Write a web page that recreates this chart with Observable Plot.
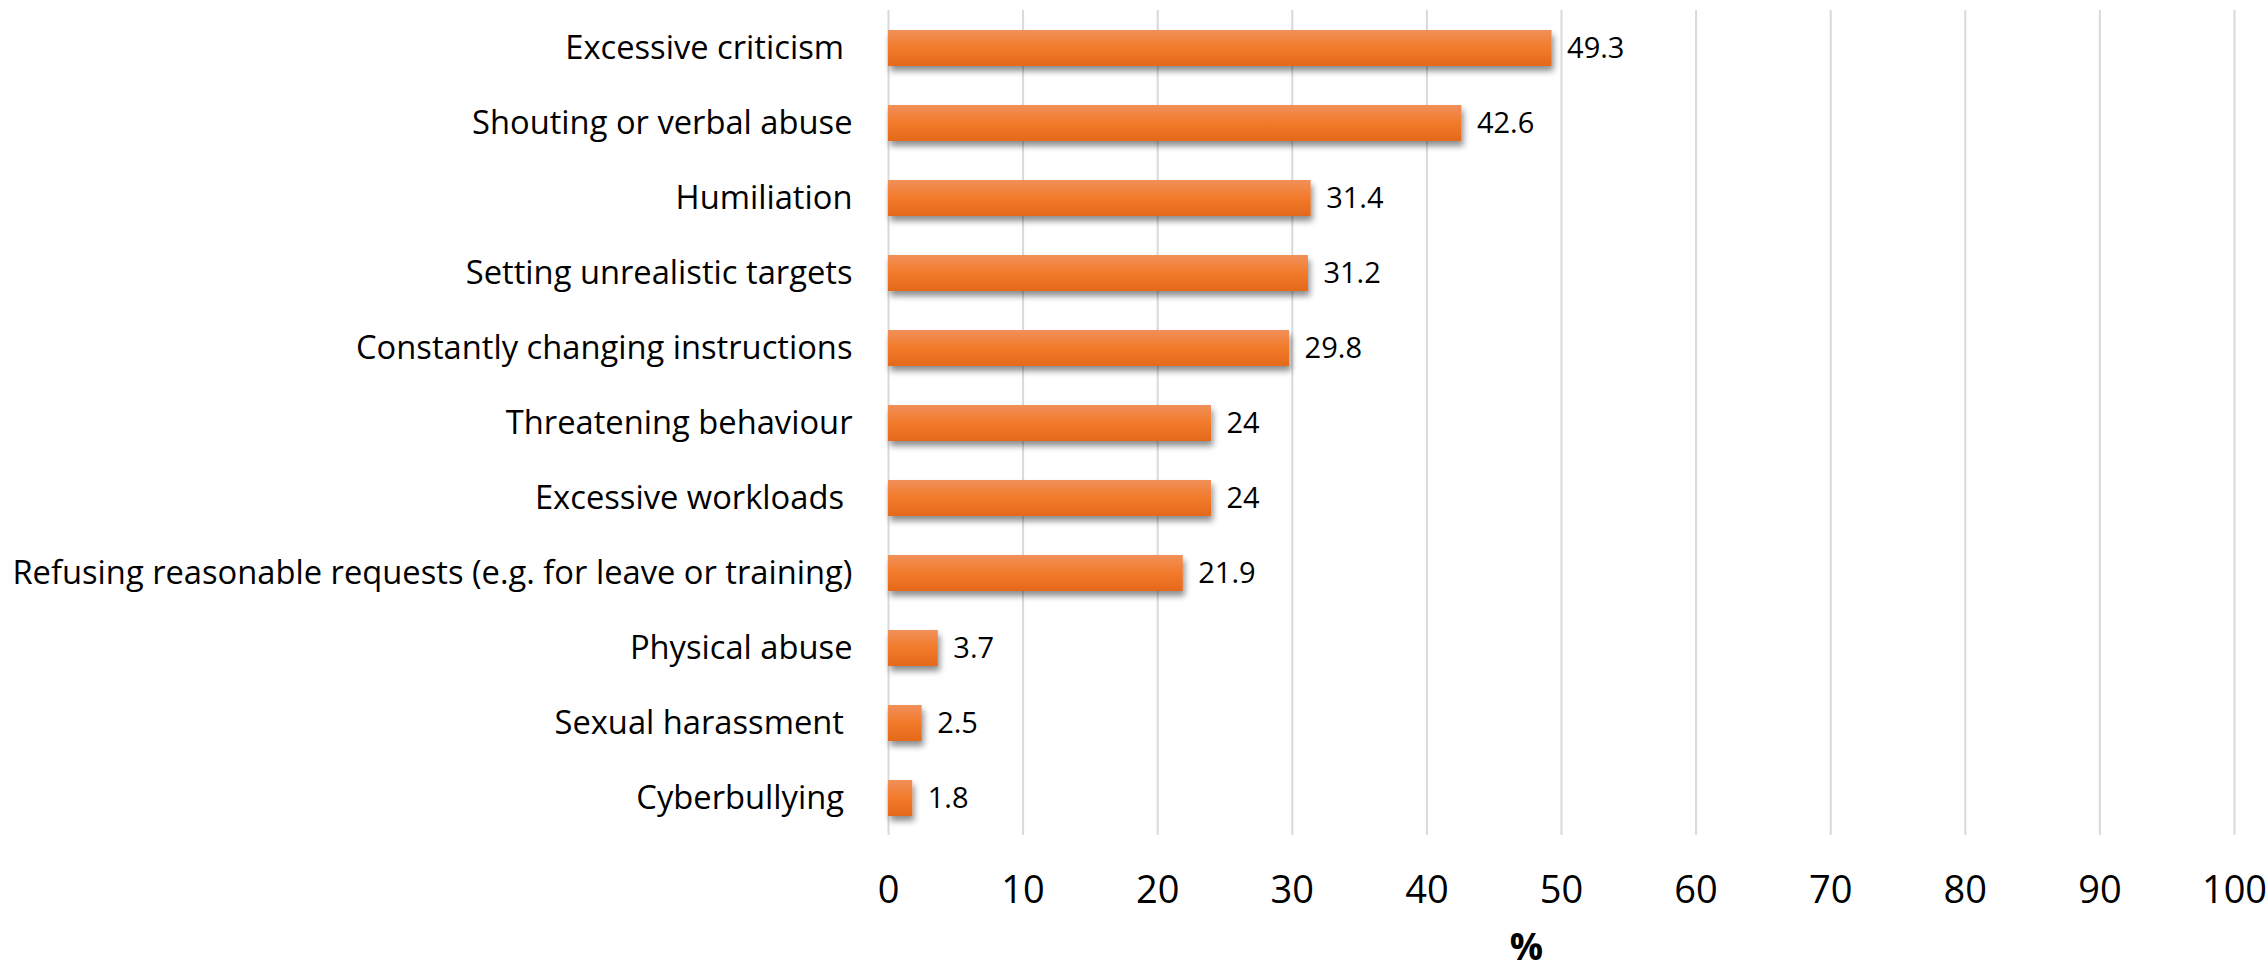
<!DOCTYPE html>
<html>
<head>
<meta charset="utf-8">
<script src="https://cdn.jsdelivr.net/npm/d3@7"></script>
<script src="https://cdn.jsdelivr.net/npm/@observablehq/plot@0.6"></script>
<style>
  html, body { margin: 0; padding: 0; background: #ffffff; }
  #chart svg { display: block; }
</style>
</head>
<body>
<div id="chart"></div>
<script>
// Data (categories in display order, top to bottom)
const categories = [
  "Excessive criticism\u00A0",
  "Shouting or verbal abuse",
  "Humiliation",
  "Setting unrealistic targets",
  "Constantly changing instructions",
  "Threatening behaviour",
  "Excessive workloads\u00A0",
  "Refusing reasonable requests (e.g. for leave or training)",
  "Physical abuse",
  "Sexual harassment\u00A0",
  "Cyberbullying\u00A0"
];
const values = [49.3, 42.6, 31.4, 31.2, 29.8, 24, 24, 21.9, 3.7, 2.5, 1.8];
const xTicks = [0, 10, 20, 30, 40, 50, 60, 70, 80, 90, 100];
const xLabel = "%";

const data = categories.map((c, i) => ({category: c, value: values[i]}));

const chart = Plot.plot({
  width: 2268,
  height: 970,
  marginTop: 10,
  marginBottom: 135,
  marginLeft: 888,
  marginRight: 34,
  style: {fontFamily: "'Open Sans', sans-serif", fontSize: "32px", color: "#000", background: "#fff", overflow: "visible"},
  x: {domain: [0, 100], ticks: xTicks},
  y: {domain: categories, padding: 0.52, paddingOuter: 0.26, align: 0.5},
  marks: [
    Plot.gridX(xTicks, {stroke: "#d9d9d9", strokeOpacity: 1, strokeWidth: 2}),
    Plot.barX(data, {x: "value", y: "category", fill: "url(#barGrad)"}),
    Plot.text(data, {x: "value", y: "category", text: d => String(d.value), textAnchor: "start", dx: 15, fontSize: 29, fill: "#000"}),
    Plot.axisY({tickSize: 0, tickPadding: 36, fontSize: 32.7, label: null}),
    Plot.axisX({ticks: xTicks, tickSize: 0, tickPadding: 41, fontSize: 38, label: null}),
    Plot.text([xLabel], {frameAnchor: "bottom", dy: 124, dx: -35, fontSize: 37, fontWeight: "bold", fill: "#000"})
  ]
});

// gradient + shadow for bars
const svgNS = "http://www.w3.org/2000/svg";
const defs = document.createElementNS(svgNS, "defs");
defs.innerHTML = `
  <linearGradient id="barGrad" x1="0" y1="0" x2="0" y2="1">
    <stop offset="0" stop-color="#F1905A"/>
    <stop offset="0.5" stop-color="#F27A2A"/>
    <stop offset="1" stop-color="#E4691B"/>
  </linearGradient>
  <filter id="barShadow" x="-10%" y="-20%" width="130%" height="160%">
    <feGaussianBlur in="SourceAlpha" stdDeviation="3"/>
    <feOffset dx="2" dy="5" result="off"/>
    <feComponentTransfer><feFuncA type="linear" slope="0.45"/></feComponentTransfer>
    <feMerge><feMergeNode/><feMergeNode in="SourceGraphic"/></feMerge>
  </filter>`;
chart.insertBefore(defs, chart.firstChild);
const barGroup = chart.querySelector('g[aria-label="bar"]');
if (barGroup) barGroup.setAttribute("filter", "url(#barShadow)");

document.getElementById("chart").appendChild(chart);
</script>
</body>
</html>
